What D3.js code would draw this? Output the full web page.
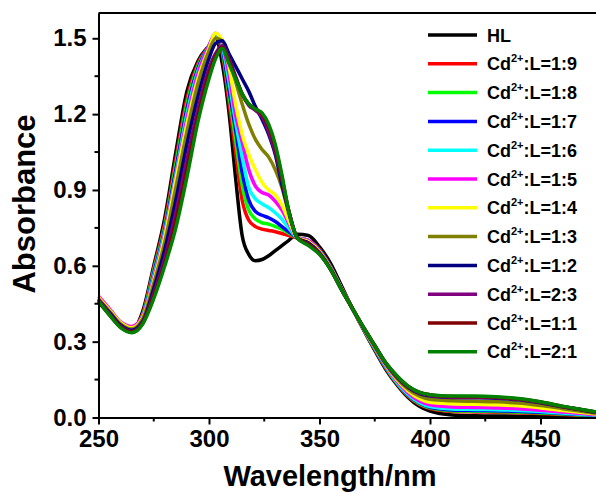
<!DOCTYPE html>
<html>
<head>
<meta charset="utf-8">
<script src="https://cdn.jsdelivr.net/npm/d3@7"></script>
<style>
	body { margin: 0; background: #fff; }
	svg { display: block; font-family: "Liberation Sans", Arial, sans-serif; }
</style>
</head>
<body>
<div id="main_node"></div>
<script>
// wavelengths (nm) shared by all spectra
var wavelengths = [250, 255, 260, 265, 270, 275, 280, 285, 290, 295, 300, 303, 306, 309, 312, 315, 318, 321, 324, 327, 330, 333, 336, 340, 345, 350, 355, 360, 365, 370, 375, 380, 385, 390, 395, 400, 410, 420, 430, 440, 450, 460, 470, 475];

var seriesNames = ["HL", "1:9", "1:8", "1:7", "1:6", "1:5", "1:4", "1:3", "1:2", "2:3", "1:1", "2:1"];
var seriesColors = ["#000000", "#ff0000", "#00ff00", "#0000ff", "#00ffff", "#ff00ff", "#ffff00", "#808000", "#000080", "#800080", "#800000", "#008000"];

var absHL = [0.455, 0.41, 0.365, 0.345, 0.42, 0.60, 0.79, 1.05, 1.29, 1.41, 1.47, 1.50, 1.40, 1.21, 0.95, 0.72, 0.645, 0.62, 0.625, 0.64, 0.66, 0.68, 0.70, 0.725, 0.72, 0.675, 0.61, 0.52, 0.43, 0.345, 0.265, 0.19, 0.13, 0.08, 0.045, 0.025, 0.01, 0.007, 0.006, 0.005, 0.004, 0.003, 0.003, 0.003];
var abs19 = [0.465, 0.415, 0.37, 0.35, 0.41, 0.59, 0.77, 1.02, 1.26, 1.40, 1.47, 1.51, 1.44, 1.25, 1.05, 0.86, 0.78, 0.755, 0.745, 0.74, 0.735, 0.728, 0.72, 0.71, 0.70, 0.665, 0.597, 0.512, 0.428, 0.347, 0.27, 0.195, 0.135, 0.085, 0.052, 0.035, 0.024, 0.022, 0.021, 0.019, 0.016, 0.012, 0.008, 0.006];
var abs18 = [0.465, 0.415, 0.37, 0.35, 0.405, 0.58, 0.755, 1.00, 1.24, 1.39, 1.47, 1.51, 1.45, 1.28, 1.10, 0.92, 0.82, 0.785, 0.77, 0.765, 0.755, 0.745, 0.73, 0.71, 0.70, 0.66, 0.595, 0.51, 0.428, 0.348, 0.272, 0.198, 0.137, 0.088, 0.055, 0.038, 0.027, 0.025, 0.024, 0.022, 0.018, 0.014, 0.009, 0.007];
var abs17 = [0.47, 0.42, 0.37, 0.35, 0.40, 0.57, 0.745, 0.98, 1.22, 1.38, 1.47, 1.51, 1.46, 1.30, 1.14, 0.97, 0.86, 0.815, 0.80, 0.79, 0.775, 0.755, 0.735, 0.71, 0.70, 0.66, 0.594, 0.51, 0.428, 0.349, 0.274, 0.20, 0.14, 0.09, 0.058, 0.04, 0.03, 0.028, 0.027, 0.025, 0.021, 0.016, 0.011, 0.008];
var abs16 = [0.47, 0.42, 0.372, 0.355, 0.40, 0.56, 0.735, 0.96, 1.20, 1.37, 1.47, 1.515, 1.47, 1.33, 1.17, 1.03, 0.91, 0.865, 0.845, 0.83, 0.81, 0.785, 0.75, 0.71, 0.70, 0.658, 0.593, 0.509, 0.428, 0.35, 0.275, 0.202, 0.14, 0.092, 0.06, 0.043, 0.034, 0.032, 0.031, 0.028, 0.024, 0.018, 0.012, 0.009];
var abs15 = [0.48, 0.43, 0.378, 0.36, 0.40, 0.55, 0.725, 0.95, 1.18, 1.36, 1.47, 1.52, 1.48, 1.36, 1.20, 1.09, 0.98, 0.915, 0.89, 0.88, 0.855, 0.82, 0.77, 0.71, 0.70, 0.657, 0.592, 0.509, 0.429, 0.351, 0.277, 0.205, 0.145, 0.098, 0.066, 0.05, 0.042, 0.04, 0.038, 0.035, 0.029, 0.022, 0.015, 0.011];
var abs14 = [0.475, 0.425, 0.375, 0.355, 0.395, 0.54, 0.715, 0.94, 1.16, 1.34, 1.46, 1.52, 1.49, 1.39, 1.24, 1.12, 1.04, 0.98, 0.93, 0.90, 0.88, 0.84, 0.78, 0.71, 0.695, 0.655, 0.59, 0.508, 0.429, 0.352, 0.279, 0.208, 0.15, 0.105, 0.075, 0.06, 0.054, 0.052, 0.05, 0.046, 0.038, 0.028, 0.019, 0.014];
var abs13 = [0.47, 0.42, 0.37, 0.35, 0.39, 0.53, 0.695, 0.91, 1.13, 1.32, 1.45, 1.50, 1.49, 1.42, 1.33, 1.24, 1.16, 1.10, 1.06, 1.03, 0.98, 0.91, 0.81, 0.71, 0.69, 0.652, 0.588, 0.507, 0.43, 0.353, 0.281, 0.211, 0.155, 0.112, 0.085, 0.072, 0.066, 0.064, 0.062, 0.057, 0.047, 0.035, 0.023, 0.017];
var abs12 = [0.465, 0.415, 0.365, 0.345, 0.38, 0.51, 0.665, 0.86, 1.08, 1.27, 1.42, 1.48, 1.49, 1.44, 1.39, 1.34, 1.29, 1.23, 1.18, 1.12, 1.04, 0.92, 0.82, 0.71, 0.69, 0.65, 0.587, 0.506, 0.43, 0.354, 0.284, 0.214, 0.16, 0.12, 0.095, 0.085, 0.079, 0.078, 0.076, 0.07, 0.058, 0.042, 0.028, 0.02];
var abs23 = [0.465, 0.41, 0.36, 0.34, 0.375, 0.49, 0.63, 0.81, 1.02, 1.22, 1.38, 1.44, 1.47, 1.42, 1.35, 1.28, 1.235, 1.215, 1.19, 1.13, 1.05, 0.94, 0.82, 0.71, 0.685, 0.648, 0.586, 0.506, 0.43, 0.355, 0.285, 0.215, 0.162, 0.122, 0.098, 0.088, 0.081, 0.08, 0.078, 0.072, 0.06, 0.043, 0.029, 0.021];
var abs11 = [0.46, 0.405, 0.358, 0.338, 0.372, 0.48, 0.61, 0.78, 0.98, 1.19, 1.36, 1.43, 1.465, 1.41, 1.345, 1.28, 1.24, 1.22, 1.20, 1.15, 1.07, 0.95, 0.82, 0.71, 0.685, 0.647, 0.586, 0.505, 0.43, 0.355, 0.285, 0.216, 0.164, 0.124, 0.10, 0.09, 0.083, 0.082, 0.08, 0.073, 0.061, 0.044, 0.029, 0.021];
var abs21 = [0.46, 0.405, 0.355, 0.335, 0.37, 0.47, 0.60, 0.75, 0.95, 1.17, 1.34, 1.42, 1.46, 1.40, 1.34, 1.28, 1.24, 1.22, 1.205, 1.16, 1.08, 0.96, 0.82, 0.71, 0.68, 0.645, 0.585, 0.505, 0.43, 0.355, 0.285, 0.216, 0.165, 0.125, 0.10, 0.09, 0.085, 0.085, 0.082, 0.075, 0.062, 0.045, 0.03, 0.022];

var allSeries = [absHL, abs19, abs18, abs17, abs16, abs15, abs14, abs13, abs12, abs23, abs11, abs21];

var xTicks = [250, 300, 350, 400, 450];
var yTicks = [0, 0.3, 0.6, 0.9, 1.2, 1.5];

var width = 596, height = 492;

var svg = d3.select("#main_node")
	.append("svg")
	.attr("width", width)
	.attr("height", height);

var x = d3.scaleLinear().domain([250, 475]).range([98.5, 595.75]);
var y = d3.scaleLinear().domain([0, 1.6]).range([417.5, 13]);

var line = d3.line()
	.x(function (d) { return x(d[0]); })
	.y(function (d) { return y(d[1]); })
	.curve(d3.curveMonotoneX);

// spectra, drawn in legend order so 2:1 ends on top
allSeries.forEach(function (vals, i) {
	var pts = wavelengths.map(function (w, j) { return [w, vals[j]]; });
	svg.append("path")
		.datum(pts)
		.attr("fill", "none")
		.attr("stroke", seriesColors[i])
		.attr("stroke-width", 3.5)
		.attr("stroke-linejoin", "round")
		.attr("d", line);
});

// top frame
svg.append("line")
	.attr("x1", 98.5).attr("x2", 598)
	.attr("y1", y(1.6)).attr("y2", y(1.6))
	.attr("stroke", "#000").attr("stroke-width", 2);

// minor ticks
var xMinor = [275, 325, 375, 425];
var yMinor = [0.15, 0.45, 0.75, 1.05, 1.35];

var xAxis = svg.append("g")
	.attr("transform", "translate(0," + y(0) + ")")
	.call(d3.axisBottom(x).tickValues(xTicks).tickSize(7).tickSizeOuter(0).tickPadding(5));
xAxis.append("g").selectAll("line")
	.data(xMinor).enter().append("line")
	.attr("x1", function (d) { return x(d); }).attr("x2", function (d) { return x(d); })
	.attr("y1", 0).attr("y2", 4)
	.attr("stroke", "#000").attr("stroke-width", 2);

var yAxis = svg.append("g")
	.attr("transform", "translate(" + x(250) + ",0)")
	.call(d3.axisLeft(y).tickValues(yTicks).tickFormat(d3.format(".1f")).tickSize(6).tickSizeOuter(0).tickPadding(6));
yAxis.append("g").selectAll("line")
	.data(yMinor).enter().append("line")
	.attr("y1", function (d) { return y(d); }).attr("y2", function (d) { return y(d); })
	.attr("x1", 0).attr("x2", -4)
	.attr("stroke", "#000").attr("stroke-width", 2);

[xAxis, yAxis].forEach(function (g) {
	g.select(".domain").attr("stroke-width", 2);
	g.selectAll(".tick line").attr("stroke-width", 2);
	g.selectAll(".tick text")
		.attr("fill", "#000")
		.style("font-size", "24px")
		.style("font-weight", "bold")
		.style("font-family", "'Liberation Sans', Arial, sans-serif");
});

// axis titles
svg.append("text")
	.attr("x", 330).attr("y", 486)
	.attr("text-anchor", "middle")
	.style("font-size", "29px").style("font-weight", "bold")
	.text("Wavelength/nm");

svg.append("text")
	.attr("transform", "translate(35,204) rotate(-90)")
	.attr("text-anchor", "middle")
	.style("font-size", "31px").style("font-weight", "bold")
	.text("Absorbance");

// legend
var legend = svg.append("g");
seriesNames.forEach(function (name, i) {
	var ly = 35 + i * 28.8;
	legend.append("line")
		.attr("x1", 428).attr("x2", 477)
		.attr("y1", ly).attr("y2", ly)
		.attr("stroke", seriesColors[i]).attr("stroke-width", 3.5);
	var t = legend.append("text")
		.attr("x", 487).attr("y", ly + 6.5)
		.style("font-size", "18px").style("font-weight", "bold");
	if (name === "HL") {
		t.text("HL");
	} else {
		t.append("tspan").text("Cd");
		t.append("tspan").attr("dy", -8).style("font-size", "11px").text("2+");
		t.append("tspan").attr("dy", 8).text(":L=" + name);
	}
});
</script>
</body>
</html>
